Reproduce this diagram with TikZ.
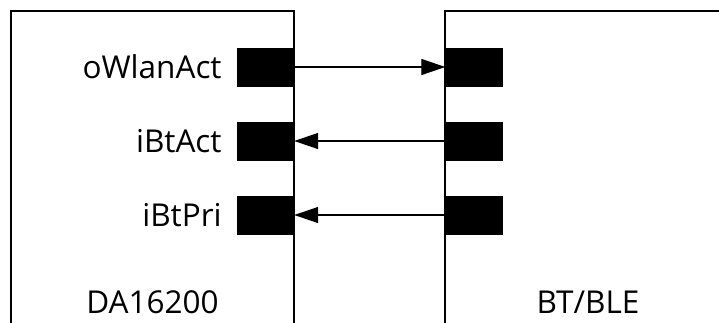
\documentclass[tikz,border=0pt]{standalone}
\usepackage{fontspec}
\setmainfont{Open Sans}
\usetikzlibrary{positioning,arrows.meta}

\tikzset{
  port/.style={draw=black,fill=black,minimum width=57pt,minimum height=38pt,inner sep=0pt},
  pinlbl/.style={inner sep=0pt,font=\fontsize{31.5}{38}\selectfont},
  sig/.style={black,line width=1.3pt,-{Triangle[length=24pt,width=16pt]}}
}

\begin{document}
\begin{tikzpicture}[x=1pt,y=-1pt]
\useasboundingbox (0,0) rectangle (719,322);
% Boxes (open at the bottom / right)
\draw[black,line width=1.6pt] (11,330)--(11,11)--(294,11)--(294,330);
\draw[black,line width=1.6pt] (445,330)--(445,11)--(730,11);
% Ports of DA16200
\node[port] (wlanL) at (265.5,67) {};
\node[port] (btactL) at (265.5,141) {};
\node[port] (btpriL) at (265.5,215) {};
% Ports of BT/BLE
\node[port] (wlanR) at (474,67) {};
\node[port] (btactR) at (474,141) {};
\node[port] (btpriR) at (474,215) {};
% Pin labels
\node[pinlbl,left=15pt of wlanL] (wlanlbl) {oWlanAct};
\node[pinlbl,left=15pt of btactL] (btactlbl) {iBtAct};
\node[pinlbl,left=15pt of btpriL] (btprilbl) {iBtPri};
% Arrows
\draw[sig] (wlanL.east)--(wlanR.west);
\draw[sig] (btactR.west)--(btactL.east);
\draw[sig] (btpriR.west)--(btpriL.east);
% Chip names
\node[pinlbl,anchor=base] (da) at (152.5,313) {DA16200};
\node[pinlbl,anchor=base] (bt) at (588,313) {BT/BLE};
\end{tikzpicture}
\end{document}
